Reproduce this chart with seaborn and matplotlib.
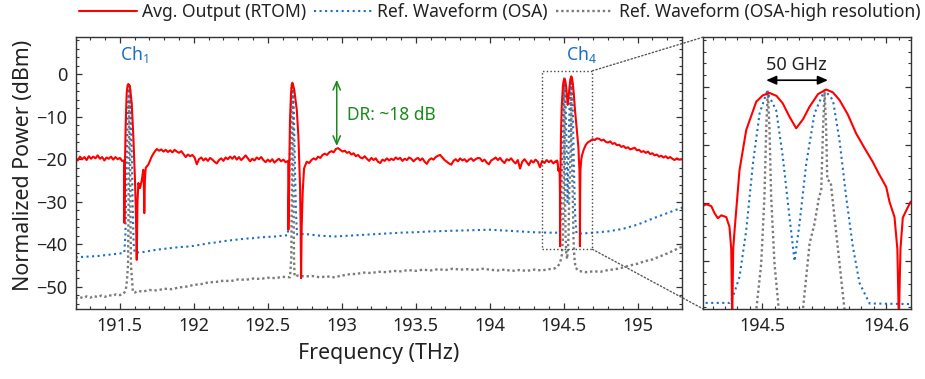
import matplotlib
matplotlib.use("Agg")
import matplotlib.pyplot as plt
import seaborn as sns
from matplotlib.patches import Rectangle, ConnectionPatch
from matplotlib.ticker import MultipleLocator

# ---------------- data ----------------
red_freq = [191.200, 191.215, 191.230, 191.245, 191.260, 191.275, 191.290, 191.305, 191.320, 191.335,
            191.350, 191.365, 191.380, 191.395, 191.410, 191.425, 191.440, 191.455, 191.470, 191.485,
            191.500, 191.515, 191.529,
            191.530, 191.534, 191.539, 191.546, 191.552, 191.557, 191.562, 191.568, 191.580, 191.591,
            191.602, 191.608, 191.614, 191.619, 191.625, 191.636, 191.648, 191.658, 191.662, 191.665,
            191.669, 191.675, 191.692, 191.705, 191.715, 191.730, 191.749, 191.765, 191.780, 191.795,
            191.810, 191.825, 191.840, 191.855, 191.870, 191.885, 191.900, 191.915, 191.930, 191.945,
            191.960, 191.975, 191.990, 192.005, 192.020, 192.035, 192.050, 192.065, 192.080, 192.095,
            192.110, 192.125, 192.140, 192.155, 192.170, 192.185, 192.200, 192.215, 192.230, 192.245,
            192.260, 192.275, 192.290, 192.305, 192.320, 192.335, 192.350, 192.365, 192.380, 192.395,
            192.410, 192.425, 192.440, 192.455, 192.470, 192.485, 192.500, 192.515, 192.530, 192.545,
            192.560, 192.575, 192.590, 192.605, 192.620, 192.638,
            192.639, 192.646, 192.650, 192.657, 192.662, 192.666, 192.671, 192.679, 192.696, 192.707,
            192.718, 192.722, 192.725, 192.729, 192.736, 192.745, 192.763, 192.780, 192.795, 192.810,
            192.825, 192.840, 192.855, 192.870, 192.885, 192.900, 192.915, 192.930, 192.945, 192.960,
            192.975, 192.990, 193.005, 193.020, 193.035, 193.050, 193.065, 193.080, 193.095, 193.110,
            193.125, 193.140, 193.155, 193.170, 193.185, 193.200, 193.215, 193.230, 193.245, 193.260,
            193.275, 193.290, 193.305, 193.320, 193.335, 193.350, 193.365, 193.380, 193.395, 193.410,
            193.425, 193.440, 193.455, 193.470, 193.485, 193.500, 193.515, 193.530, 193.545, 193.560,
            193.575, 193.590, 193.605, 193.620, 193.635, 193.650, 193.665, 193.680, 193.695, 193.710,
            193.725, 193.740, 193.755, 193.770, 193.785, 193.800, 193.815, 193.830, 193.845, 193.860,
            193.875, 193.890, 193.905, 193.920, 193.935, 193.950, 193.965, 193.980, 193.995, 194.010,
            194.025, 194.040, 194.055, 194.070, 194.085, 194.100, 194.115, 194.130, 194.145, 194.160,
            194.175, 194.190, 194.205, 194.220, 194.235, 194.250, 194.265, 194.280, 194.295, 194.310,
            194.325, 194.340, 194.355, 194.370, 194.385, 194.400, 194.415, 194.430, 194.445,
            194.4516, 194.4550, 194.4589, 194.4615, 194.4642, 194.4670, 194.4710, 194.4736, 194.4750,
            194.4758, 194.4766, 194.4777, 194.4817, 194.4871, 194.4952, 194.5005, 194.5059, 194.5115,
            194.5166, 194.5220, 194.5274, 194.5330, 194.5381, 194.5450, 194.5516, 194.5570, 194.5623,
            194.5690, 194.5758, 194.5825, 194.5892, 194.5940, 194.6000, 194.6027, 194.6067, 194.6090,
            194.6102, 194.6115, 194.6134, 194.6170, 194.6196,
            194.625, 194.635, 194.650, 194.665, 194.680, 194.695, 194.710, 194.725, 194.740, 194.755,
            194.770, 194.785, 194.800, 194.815, 194.830, 194.845, 194.860, 194.875, 194.890, 194.905,
            194.920, 194.935, 194.950, 194.965, 194.980, 194.995, 195.010, 195.025, 195.040, 195.055,
            195.070, 195.085, 195.100, 195.115, 195.130, 195.145, 195.160, 195.175, 195.190, 195.205,
            195.220, 195.235, 195.250, 195.265, 195.280, 195.300]
red_db = [-19.6, -20.3, -19.4, -20.0, -19.5, -20.2, -19.3, -19.9, -19.4, -19.8,
          -19.1, -19.9, -19.5, -20.3, -19.6, -19.9, -19.4, -20.1, -19.5, -20.0,
          -19.7, -20.4, -20.3,
          -35.0, -22.0, -12.3, -4.5, -2.6, -2.3, -2.5, -2.9, -6.8, -14.7,
          -24.9, -32.0, -43.7, -30.0, -25.6, -26.8, -25.0, -22.5, -26.0, -32.7,
          -25.0, -22.0, -21.3, -20.2, -19.4, -18.5, -17.6, -18.0, -17.7, -18.2,
          -17.8, -18.3, -17.9, -18.4, -17.8, -18.2, -18.5, -18.1, -18.8, -19.5,
          -18.9, -19.3, -19.0, -19.6, -21.2, -20.0, -19.6, -20.3, -19.8, -20.4,
          -19.7, -20.1, -20.6, -21.0, -20.2, -19.8, -20.4, -19.6, -20.0, -19.4,
          -19.9, -19.3, -20.1, -19.5, -20.2, -19.7, -19.1, -19.8, -20.5, -19.9,
          -20.3, -19.6, -20.0, -19.5, -20.2, -20.7, -20.1, -20.6, -20.0, -20.8,
          -20.3, -19.9, -20.5, -20.1, -20.7, -20.4,
          -36.6, -19.8, -10.8, -4.5, -2.4, -2.0, -2.5, -3.7, -8.4, -14.7,
          -26.5, -36.0, -48.0, -36.0, -27.6, -22.2, -20.6, -20.9, -20.2, -19.8,
          -20.1, -19.4, -19.7, -19.0, -18.7, -19.0, -18.4, -18.1, -18.4, -17.6,
          -17.4, -17.8, -18.2, -18.0, -18.5, -18.3, -18.9, -18.6, -19.3, -19.0,
          -19.6, -19.8, -19.3, -19.9, -20.4, -19.7, -20.2, -19.8, -20.6, -20.9,
          -20.1, -20.4, -19.8, -20.3, -19.9, -20.2, -19.6, -20.0, -19.7, -20.4,
          -19.9, -20.2, -19.6, -19.9, -20.5, -20.0, -19.7, -20.3, -19.8, -20.6,
          -21.1, -20.2, -19.8, -20.1, -19.5, -19.2, -19.0, -19.6, -20.2, -20.6,
          -21.0, -21.3, -20.4, -20.0, -20.5, -19.8, -20.3, -20.0, -20.6, -20.1,
          -19.8, -20.4, -20.0, -19.7, -19.8, -20.5, -20.1, -20.8, -21.2, -20.3,
          -20.0, -19.6, -20.2, -19.7, -20.4, -20.9, -20.0, -20.3, -19.8, -20.5,
          -21.0, -20.2, -22.2, -20.6, -20.0, -20.7, -21.4, -20.3, -20.8, -20.1,
          -20.6, -21.9, -20.4, -20.9, -20.2, -20.7, -20.3, -21.0, -20.5,
          -20.6, -20.3, -20.6, -21.8, -22.7, -22.2, -22.5, -24.2, -28.0,
          -40.5, -28.0, -24.8, -14.4, -7.5, -2.6, -1.5, -1.1, -1.6,
          -2.9, -5.2, -7.2, -5.6, -3.5, -1.3, -0.5, -1.0, -2.3,
          -4.8, -8.1, -10.6, -13.0, -15.0, -17.3, -19.9, -22.5, -28.0,
          -40.5, -28.0, -22.6, -21.0, -19.9,
          -19.0, -17.8, -16.6, -16.0, -15.7, -15.3, -15.5, -15.1, -15.2, -15.6,
          -15.4, -15.9, -16.1, -15.8, -16.4, -16.2, -16.7, -16.6, -17.1, -16.9,
          -17.4, -17.2, -17.7, -17.5, -17.3, -17.9, -17.8, -18.3, -18.1, -18.5,
          -18.2, -18.8, -18.6, -19.1, -18.9, -19.4, -19.2, -19.6, -19.3, -19.8,
          -19.5, -19.9, -20.2, -19.8, -20.1, -20.0]

blue_freq = [191.20, 191.25, 191.30, 191.35, 191.40, 191.45, 191.50, 191.530, 191.537, 191.543,
             191.549, 191.555, 191.560, 191.564, 191.569, 191.575, 191.581, 191.587, 191.593, 191.600,
             191.65, 191.70, 191.75, 191.80, 191.85, 191.90, 191.95, 192.00, 192.05, 192.10,
             192.15, 192.20, 192.25, 192.30, 192.35, 192.40, 192.45, 192.50, 192.55, 192.60,
             192.635, 192.641, 192.647, 192.653, 192.659, 192.665, 192.670, 192.676, 192.683, 192.690,
             192.697, 192.75, 192.80, 192.85, 192.90, 192.95, 193.00, 193.05, 193.10, 193.15,
             193.20, 193.30, 193.40, 193.50, 193.60, 193.70, 193.80, 193.90, 194.00, 194.10,
             194.20, 194.30, 194.40, 194.4516, 194.4736, 194.4763, 194.4817, 194.4871, 194.4925, 194.4979,
             194.5038, 194.5113, 194.5166, 194.5220, 194.5261, 194.5301, 194.5355, 194.5422, 194.5503, 194.5570,
             194.5623, 194.5677, 194.5731, 194.5785, 194.5866, 194.6196, 194.70, 194.80, 194.90, 195.00,
             195.10, 195.20, 195.30]
blue_db = [-43.1, -43.0, -42.9, -42.8, -42.6, -42.4, -42.2, -42.0, -38.0, -28.0,
           -16.0, -7.0, -3.0, -2.6, -3.5, -9.0, -20.0, -32.0, -40.0, -42.0,
           -41.9, -41.6, -41.3, -41.1, -40.9, -40.7, -40.6, -40.4, -40.1, -39.8,
           -39.6, -39.3, -39.1, -38.9, -38.7, -38.6, -38.4, -38.3, -38.2, -38.0,
           -37.9, -33.0, -22.0, -11.0, -4.0, -2.3, -3.0, -9.0, -21.0, -32.0,
           -37.7, -37.6, -37.8, -38.0, -38.1, -38.2, -38.1, -38.0, -37.9, -37.8,
           -37.7, -37.5, -37.3, -37.2, -37.0, -36.9, -36.8, -36.7, -36.6, -36.8,
           -37.0, -37.2, -37.3, -37.3, -37.3, -36.3, -32.8, -24.8, -13.3, -4.6,
           -0.9, -4.1, -12.1, -22.5, -30.1, -23.6, -13.3, -4.6, -0.6, -2.3,
           -9.2, -19.0, -27.6, -33.9, -37.4, -37.5, -37.3, -37.0, -36.4, -35.4,
           -34.0, -32.7, -31.4]

gray_freq = [191.200, 191.225, 191.250, 191.275, 191.300, 191.325, 191.350, 191.375, 191.400, 191.425,
             191.450, 191.475, 191.500, 191.525, 191.540, 191.548, 191.555, 191.559, 191.562, 191.565,
             191.568, 191.571, 191.575, 191.582, 191.588, 191.600, 191.625, 191.650, 191.700, 191.750,
             191.800, 191.850, 191.900, 191.950, 192.000, 192.050, 192.100, 192.150, 192.200, 192.250,
             192.300, 192.350, 192.400, 192.450, 192.500, 192.550, 192.600, 192.650, 192.659, 192.662,
             192.665, 192.668, 192.671, 192.674, 192.677, 192.681, 192.700, 192.750, 192.800, 192.850,
             192.900, 192.950, 193.000, 193.050, 193.100, 193.150, 193.200, 193.250, 193.300, 193.350,
             193.400, 193.450, 193.500, 193.550, 193.600, 193.650, 193.700, 193.750, 193.800, 193.850,
             193.900, 193.950, 194.000, 194.050, 194.100, 194.150, 194.200, 194.250, 194.300, 194.350,
             194.400, 194.440, 194.460, 194.475, 194.488, 194.4952, 194.4992, 194.5018, 194.5032, 194.5045,
             194.5059, 194.5072, 194.5099, 194.5134, 194.518, 194.524, 194.5328, 194.5382, 194.5422, 194.5457,
             194.5476, 194.5490, 194.5503, 194.5516, 194.5525, 194.5552, 194.5583, 194.5624, 194.5664, 194.572,
             194.580, 194.600, 194.650, 194.700, 194.750, 194.800, 194.850, 194.900, 194.950, 195.000,
             195.050, 195.100, 195.150, 195.200, 195.250, 195.300]
gray_db = [-52.8, -52.4, -52.7, -52.3, -52.6, -52.2, -52.5, -52.1, -52.4, -52.0,
           -52.2, -51.8, -52.0, -51.7, -50.8, -48.5, -45.0, -30.0, -12.0, -2.8,
           -12.0, -30.0, -45.0, -48.5, -51.3, -51.4, -51.0, -51.2, -50.8, -50.9,
           -50.5, -50.6, -50.2, -50.0, -49.6, -49.4, -49.0, -48.9, -48.6, -48.7,
           -48.3, -48.4, -48.1, -48.2, -47.9, -48.0, -47.7, -47.8, -43.0, -28.0,
           -10.0, -2.3, -10.0, -28.0, -43.0, -47.6, -47.4, -47.6, -47.5, -47.8,
           -47.6, -47.8, -47.4, -47.1, -47.0, -46.7, -46.8, -46.5, -46.6, -46.3,
           -46.4, -46.1, -46.3, -46.0, -46.2, -45.9, -46.1, -45.8, -46.0, -45.9,
           -46.1, -45.8, -46.0, -46.2, -46.0, -46.3, -46.1, -46.3, -46.0, -46.2,
           -45.9, -45.7, -45.2, -44.5, -42.5, -38.5, -30.5, -19.0, -7.5, -0.7,
           -7.5, -19.0, -30.5, -38.5, -42.5, -43.5, -38.5, -27.1, -23.6, -19.2,
           -17.9, -7.5, -0.9, -7.5, -16.1, -16.4, -22.5, -30.5, -38.5, -43.0,
           -45.5, -46.3, -46.6, -46.4, -46.5, -46.1, -45.9, -45.5, -45.0, -44.6,
           -44.0, -43.6, -42.9, -42.2, -41.4, -40.6]

series_labels = ["Avg. Output (RTOM)", "Ref. Waveform (OSA)", "Ref. Waveform (OSA-high resolution)"]
main_xticks = [191.5, 192, 192.5, 193, 193.5, 194, 194.5, 195]
main_xticklabels = ["191.5", "192", "192.5", "193", "193.5", "194", "194.5", "195"]
main_yticks = [0, -10, -20, -30, -40, -50]
inset_xticks = [194.5, 194.6]

# ---------------- style ----------------
sns.set_theme(style="ticks")
plt.rcParams["font.family"] = ["Noto Sans", "DejaVu Sans"]
plt.rcParams["mathtext.fontset"] = "custom"
plt.rcParams["mathtext.rm"] = "Noto Sans"
plt.rcParams["mathtext.it"] = "Noto Sans:italic"
plt.rcParams["axes.edgecolor"] = "#333333"
plt.rcParams["axes.linewidth"] = 1.0

RED = "#ff0000"
BLUE = "#1a6fc4"
GRAY = "#7a7a7a"
GREEN = "#1a8a1a"
TXT = "#222222"

W, H = 925, 379
fig = plt.figure(figsize=(W / 100, H / 100), dpi=100)
ax_l, ax_r, ax_t, ax_b = 75.5, 682.0, 37.3, 308.7
in_l, in_r = 702.7, 911.0
ax = fig.add_axes([ax_l / W, 1 - ax_b / H, (ax_r - ax_l) / W, (ax_b - ax_t) / H])
axi = fig.add_axes([in_l / W, 1 - ax_b / H, (in_r - in_l) / W, (ax_b - ax_t) / H])


def draw(a):
    sns.lineplot(x=gray_freq, y=gray_db, ax=a, color=GRAY, lw=1.7, linestyle=(0, (1, 1.2)),
                 estimator=None, sort=False, label=series_labels[2])
    sns.lineplot(x=blue_freq, y=blue_db, ax=a, color=BLUE, lw=1.5, linestyle=":",
                 estimator=None, sort=False, label=series_labels[1])
    sns.lineplot(x=red_freq, y=red_db, ax=a, color=RED, lw=1.5,
                 estimator=None, sort=False, label=series_labels[0])
    lg = a.get_legend()
    if lg is not None:
        lg.remove()


draw(ax)
draw(axi)

for a in (ax, axi):
    for s in a.spines.values():
        s.set_color("#333333")
        s.set_linewidth(1.0)
    a.tick_params(which="both", direction="in", top=True, right=True, colors="#333333",
                  labelcolor=TXT, labelsize=13, pad=6)
    a.tick_params(which="major", length=4.5, width=0.9)
    a.tick_params(which="minor", length=2.5, width=0.8)
    a.set_xlabel("")
    a.set_ylabel("")

# main axes
ax.set_xlim(191.2, 195.3)
ax.set_ylim(-55.2, 8.7)
ax.set_xticks(main_xticks)
ax.set_xticklabels(main_xticklabels)
ax.xaxis.set_minor_locator(MultipleLocator(0.1))
ax.set_yticks(main_yticks)
ax.yaxis.set_minor_locator(MultipleLocator(2))
ax.set_xlabel("Frequency (THz)", fontsize=15.4, color=TXT)
ax.set_ylabel("Normalized Power (dBm)", fontsize=15.4, color=TXT)
ax.xaxis.label.set_va("center")
ax.xaxis.set_label_coords(0.5, (ax_b - 353) / (ax_b - ax_t))
ax.yaxis.label.set_va("center")
ax.yaxis.set_label_coords((24 - ax_l) / (ax_r - ax_l), (ax_b - 165) / (ax_b - ax_t))

# inset axes
axi.set_xlim(194.452, 194.62)
axi.set_ylim(-38.3, 8.5)
axi.set_xticks(inset_xticks)
axi.set_xticklabels(["194.5", "194.6"])
axi.xaxis.set_minor_locator(MultipleLocator(0.01))
axi.set_yticks([0, -10, -20, -30])
axi.yaxis.set_minor_locator(MultipleLocator(2))
axi.tick_params(axis="y", which="both", labelleft=False)

# annotations in main
ax.text(191.50, 3.4, "Ch$_1$", color=BLUE, fontsize=12.7, ha="left", va="baseline")
ax.text(194.516, 3.4, "Ch$_4$", color=BLUE, fontsize=12.7, ha="left", va="baseline")
ax.annotate("", xy=(192.966, -1.3), xytext=(192.966, -16.9),
            arrowprops=dict(arrowstyle="<->,head_length=0.5,head_width=0.22", color=GREEN, lw=1.1,
                            shrinkA=0, shrinkB=0))
ax.text(193.034, -9.6, "DR: ~18 dB", color=GREEN, fontsize=12.5, ha="left", va="center")

rect = Rectangle((194.356, -41.2), 194.694 - 194.356, 42.0, fill=False, ec="#444444",
                 lw=1.0, ls=":", zorder=5)
ax.add_patch(rect)
for ya, yb in ((0.8, 1.0), (-41.2, 0.0)):
    con = ConnectionPatch(xyA=(194.694, ya), coordsA=ax.transData,
                          xyB=(0.0, yb), coordsB=axi.transAxes,
                          color="#555555", lw=1.0, ls=":")
    fig.add_artist(con)

# annotations in inset
axi.annotate("", xy=(194.5032, 1.1), xytext=(194.553, 1.1),
             arrowprops=dict(arrowstyle="<|-|>,head_length=0.5,head_width=0.22", color="black",
                             lw=1.2, shrinkA=0, shrinkB=0))
axi.text(194.5274, 3.7, "50 GHz", color=TXT, fontsize=13, ha="center", va="center")

# legend
handles, labels = ax.get_legend_handles_labels()
order = [labels.index(l) for l in series_labels]
fig.legend([handles[i] for i in order], [labels[i] for i in order],
           loc="center left", bbox_to_anchor=(79.3 / W, 1 - 11.7 / H), ncol=3, frameon=False,
           fontsize=12.6, handlelength=3.3, handletextpad=0.3, columnspacing=0.45,
           borderpad=0, borderaxespad=0, labelcolor=TXT)

fig.savefig("out.png", dpi=100)
